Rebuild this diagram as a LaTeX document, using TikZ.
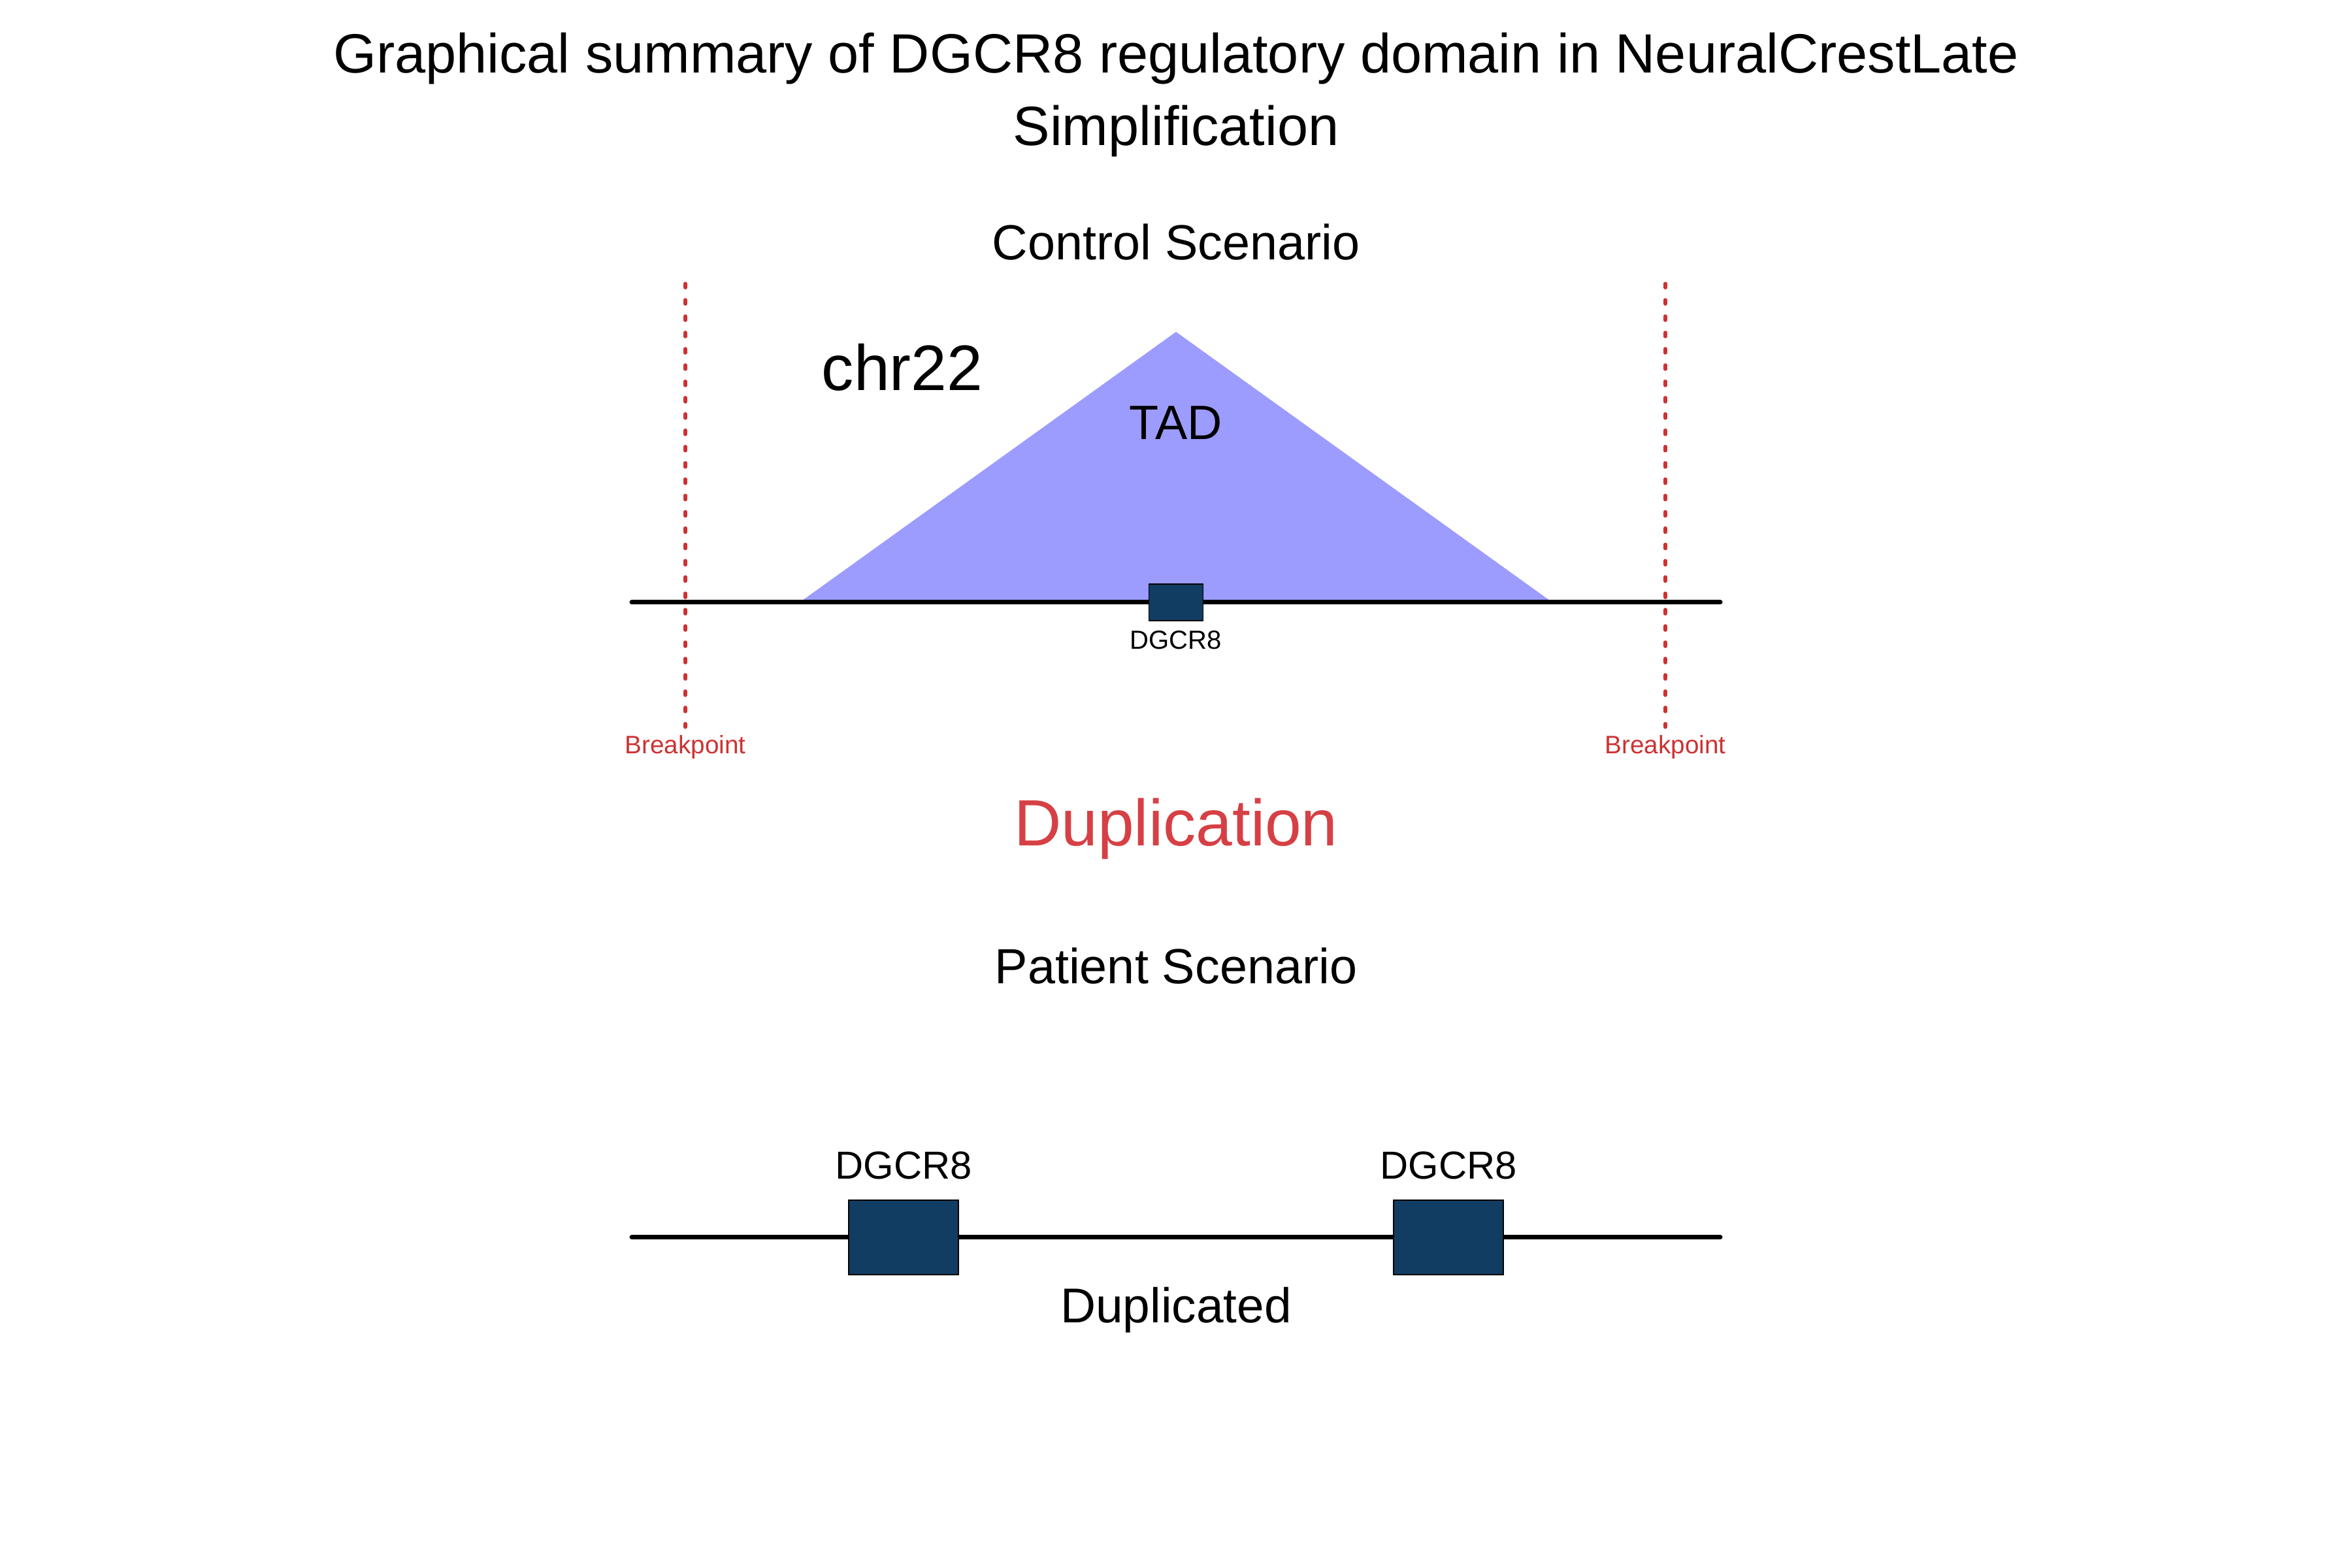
\documentclass[tikz,border=0pt]{standalone}
\usepackage{fontspec}
\setmainfont{Liberation Sans}
\usetikzlibrary{positioning}
\definecolor{tadfill}{RGB}{156,156,255}
\definecolor{genebox}{RGB}{18,61,99}
\definecolor{bpred}{RGB}{205,50,50}
\definecolor{dupred}{RGB}{214,64,69}
\tikzset{
  chrline/.style={line width=2pt,line cap=round},
  bpline/.style={bpred,line width=1.5pt,line cap=round,dash pattern=on 1.8pt off 5.3pt},
  gene/.style={draw=black,line width=0.5pt,fill=genebox,inner sep=0pt},
  lbl/.style={anchor=base,inner sep=0pt}
}

\begin{document}
\begin{tikzpicture}
 \useasboundingbox (0,0) rectangle (36,24);
 % titles
 \node[lbl,font=\fontsize{24.1}{28}\selectfont] (title) at (18,22.88) {Graphical summary of DGCR8 regulatory domain in NeuralCrestLate};
 \node[lbl,font=\fontsize{24.1}{28}\selectfont] (subtitle) at (18,21.77) {Simplification};
 \node[lbl,font=\fontsize{21.5}{26}\selectfont] (ctrl) at (18,20.02) {Control Scenario};
 % control: TAD over chr22
 \fill[tadfill] (12.24,14.78) -- (18.0,18.92) -- (23.76,14.78) -- cycle;
 \coordinate (topL) at (9.67,14.78);
 \coordinate (topR) at (26.33,14.78);
 \draw[chrline] (topL) -- (topR);
 \node[lbl,font=\fontsize{28}{32}\selectfont] (chr) at (13.81,18.02) {chr22};
 \node[lbl,font=\fontsize{21}{25}\selectfont] (tad) at (18.0,17.27) {TAD};
 \node[gene,minimum width=0.83cm,minimum height=0.56cm] (geneC) at (18.0,14.78) {};
 \node[lbl,font=\fontsize{11.4}{14}\selectfont] (geneClbl) at (18.0,14.06) {DGCR8};
 \foreach \x/\n in {10.49/bpA,25.49/bpB} {
   \coordinate (\n top) at (\x,19.66);
   \coordinate (\n bot) at (\x,12.87);
   \draw[bpline] (\n top) -- (\n bot);
   \node[lbl,text=bpred,font=\fontsize{11}{13}\selectfont] (\n) at (\x,12.46) {Breakpoint};
 }
 \node[lbl,text=dupred,font=\fontsize{28.5}{33}\selectfont] (dup) at (18,11.05) {Duplication};
 % patient: two copies
 \node[lbl,font=\fontsize{21.5}{26}\selectfont] (pat) at (18,8.94) {Patient Scenario};
 \coordinate (botL) at (9.67,5.06);
 \coordinate (botR) at (26.33,5.06);
 \draw[chrline] (botL) -- (botR);
 \foreach \x/\n in {13.83/geneP1,22.17/geneP2} {
   \node[gene,minimum width=1.68cm,minimum height=1.14cm] (\n) at (\x,5.06) {};
   \node[lbl,font=\fontsize{17}{20}\selectfont] (\n lbl) at (\x,5.95) {DGCR8};
 }
 \node[lbl,font=\fontsize{21.3}{25}\selectfont] (dupd) at (18,3.75) {Duplicated};
\end{tikzpicture}
\end{document}
